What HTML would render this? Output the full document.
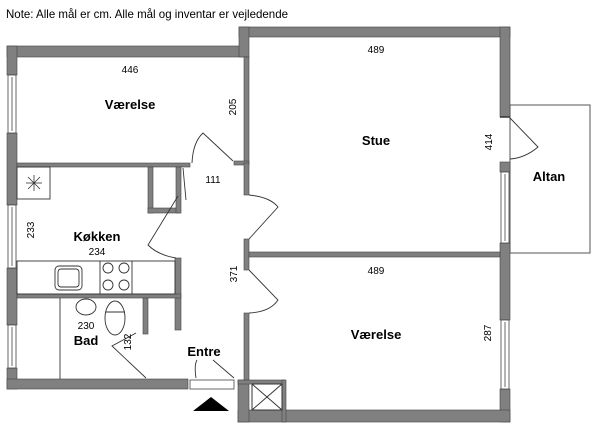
<!DOCTYPE html>
<html><head><meta charset="utf-8"><style>
html,body{margin:0;padding:0;background:#fff;width:600px;height:428px;overflow:hidden}
svg{display:block}
text{font-family:"Liberation Sans",sans-serif;fill:#000}
</style></head><body>
<svg width="600" height="428" viewBox="0 0 600 428" xmlns="http://www.w3.org/2000/svg">
<text x="6" y="18" font-size="12" textLength="282" lengthAdjust="spacingAndGlyphs">Note: Alle mål er cm. Alle mål og inventar er vejledende</text>
<!-- Altan -->
<rect x="510" y="105" width="80" height="148" fill="#fff" stroke="#555" stroke-width="1"/>
<g fill="#808080" stroke="#444" stroke-width="0.6">
<rect x="7" y="46" width="237" height="11"/>
<rect x="239" y="27" width="271" height="10"/>
<rect x="239" y="27" width="10" height="30"/>
<rect x="500" y="27" width="10" height="90"/>
<rect x="500" y="162" width="10" height="10"/>
<rect x="500" y="243" width="10" height="77"/>
<rect x="500" y="389" width="10" height="33"/>
<rect x="7" y="46" width="10" height="29"/>
<rect x="7" y="133" width="10" height="72"/>
<rect x="7" y="268" width="10" height="57"/>
<rect x="7" y="368" width="10" height="21"/>
<rect x="7" y="379" width="181" height="10"/>
<rect x="238" y="410" width="272" height="12"/>
<rect x="238" y="380" width="11" height="42"/>
<rect x="238" y="380" width="47" height="4"/>
<rect x="282" y="380" width="4" height="42"/>
<rect x="244" y="57" width="5" height="106"/>
<rect x="234" y="161" width="15" height="4"/>
<rect x="244" y="163" width="5" height="32"/>
<rect x="244" y="239" width="5" height="31"/>
<rect x="244" y="313" width="5" height="67"/>
<rect x="249" y="252" width="251" height="5"/>
<rect x="17" y="163" width="173" height="4"/>
<rect x="148" y="167" width="5" height="46"/>
<rect x="148" y="208" width="32" height="5"/>
<rect x="176" y="167" width="5" height="46"/>
<rect x="175" y="258" width="6" height="72"/>
<rect x="17" y="294" width="164" height="4"/>
<rect x="143" y="298" width="5" height="36"/>
</g>
<g fill="#fff" stroke="#444" stroke-width="0.8">
<rect x="8" y="75" width="8" height="58"/><line x1="12" y1="77" x2="12" y2="131"/>
<rect x="8" y="205" width="8" height="63"/><line x1="12" y1="207" x2="12" y2="266"/>
<rect x="8" y="325" width="8" height="43"/><line x1="12" y1="327" x2="12" y2="366"/>
<rect x="501" y="172" width="8" height="71"/><line x1="505" y1="174" x2="505" y2="241"/>
<rect x="501" y="320" width="8" height="69"/><line x1="505" y1="322" x2="505" y2="387"/>
<rect x="190" y="380" width="44" height="9"/>
</g>
<line x1="500" y1="117" x2="510" y2="117" stroke="#333" stroke-width="1.5"/>
<rect x="252" y="384" width="30" height="26" fill="#fff" stroke="#333"/>
<line x1="252" y1="384" x2="282" y2="410" stroke="#333"/><line x1="282" y1="384" x2="252" y2="410" stroke="#333"/>
<g fill="none" stroke="#333" stroke-width="0.9">
<path d="M192 163 Q193 142 203 133 L233 161"/>
<path d="M249 195 Q270 197 278 207 L249 239"/>
<path d="M249 313 Q270 312 278 300 L249 270"/>
<path d="M178 196 L148 245 Q158 255 176 258"/>
<path d="M510 159 Q525 158 538 147 L510 118"/>
<path d="M183 168 L186 200"/>
<path d="M196 378 Q194 365 197 360 M234 378 L213 360"/>
<path d="M146 378 L112 346 L136 333"/>
<rect x="17" y="167" width="33" height="32"/>
<rect x="17" y="261" width="158" height="33"/>
<line x1="100" y1="261" x2="100" y2="294"/><line x1="132" y1="261" x2="132" y2="294"/>
<rect x="55" y="266" width="27" height="24" rx="4"/>
<rect x="58" y="269" width="21" height="18" rx="3"/>
<circle cx="108" cy="268" r="5"/><circle cx="124" cy="268" r="5"/>
<circle cx="108" cy="285" r="5"/><circle cx="124" cy="285" r="5"/>
<line x1="60" y1="298" x2="60" y2="379"/>
<ellipse cx="86" cy="307" rx="10" ry="8"/>
<ellipse cx="115" cy="318" rx="10" ry="17"/>
<line x1="106" y1="312" x2="125" y2="312"/>
</g>
<g stroke="#333" stroke-width="0.8"><line x1="26" y1="183" x2="42" y2="183"/><line x1="34" y1="175" x2="34" y2="191"/><line x1="28" y1="177" x2="40" y2="189"/><line x1="40" y1="177" x2="28" y2="189"/></g>
<polygon points="193,411 211,397 229,411" fill="#000"/>
<g font-size="13" font-weight="bold" text-anchor="middle">
<text x="130" y="109">Værelse</text>
<text x="376" y="145">Stue</text>
<text x="549" y="181">Altan</text>
<text x="97" y="241">Køkken</text>
<text x="86" y="345">Bad</text>
<text x="204" y="356">Entre</text>
<text x="376" y="339">Værelse</text>
</g>
<g font-size="10" text-anchor="middle">
<text x="130" y="73">446</text>
<text x="376" y="53">489</text>
<text x="213" y="183">111</text>
<text x="97" y="255">234</text>
<text x="86" y="329">230</text>
<text x="376" y="274">489</text>
<text transform="translate(236,107) rotate(-90)">205</text>
<text transform="translate(492,142) rotate(-90)">414</text>
<text transform="translate(34,230) rotate(-90)">233</text>
<text transform="translate(237,274) rotate(-90)">371</text>
<text transform="translate(131,342) rotate(-90)">132</text>
<text transform="translate(491,333) rotate(-90)">287</text>
</g>
</svg>
</body></html>
